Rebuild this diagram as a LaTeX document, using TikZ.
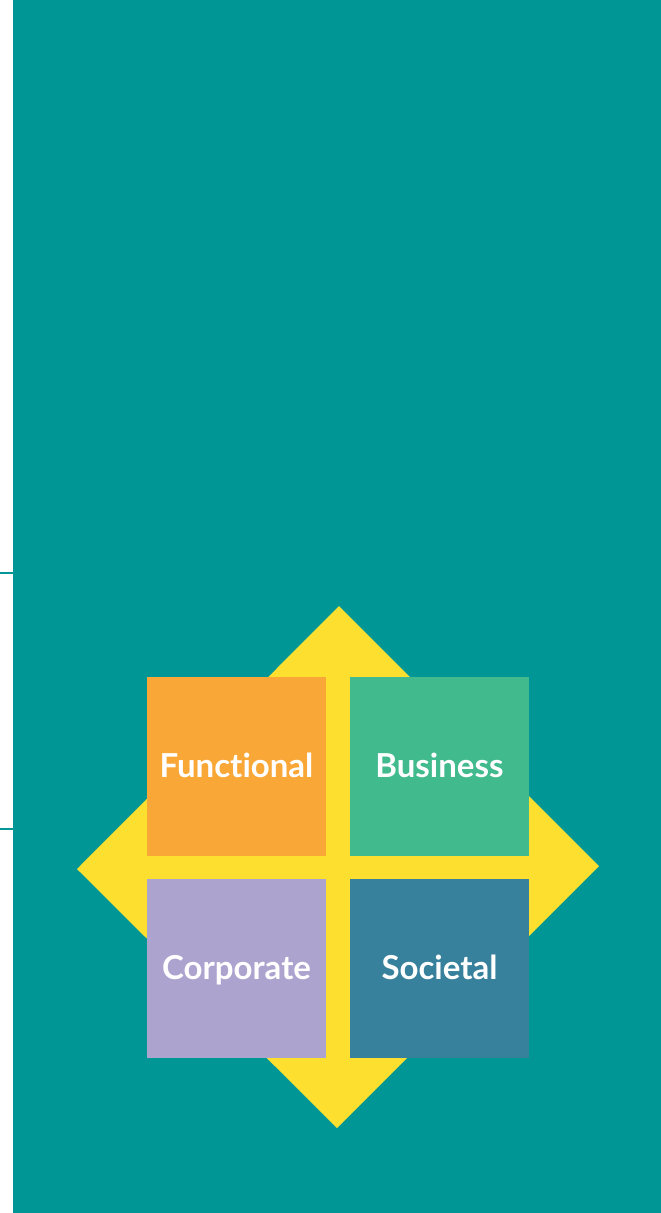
\documentclass[tikz,border=0pt]{standalone}
\usepackage{fontspec}
\setmainfont{Lato}[Ligatures=NoCommon]
\definecolor{bgteal}{HTML}{009696}
\definecolor{sunyellow}{HTML}{FCDF2F}
\definecolor{tileorange}{HTML}{F9A737}
\definecolor{tilegreen}{HTML}{41BA8D}
\definecolor{tilelilac}{HTML}{ACA3CF}
\definecolor{tileblue}{HTML}{37819C}
\begin{document}
\begin{tikzpicture}[x=1pt,y=-1pt,
  tile/.style={minimum width=179pt, minimum height=179pt, inner sep=0pt,
    text=white, font=\fontsize{33}{33}\selectfont\bfseries,
    text height=22pt, text depth=0pt}]
  % page and panel
  \useasboundingbox (0,0) rectangle (661,1213);
  \fill[white] (0,0) rectangle (661,1213);
  \fill[bgteal] (13,0) rectangle (661,1213);
  % short marks on the margin
  \coordinate (m1a) at (0,573);  \coordinate (m1b) at (13,573);
  \coordinate (m2a) at (0,829);  \coordinate (m2b) at (13,829);
  \draw[bgteal, line width=2pt] (m1a) -- (m1b);
  \draw[bgteal, line width=2pt] (m2a) -- (m2b);
  % yellow diamond behind the tiles
  \coordinate (dc) at (338,867);
  \fill[sunyellow] (339,606) -- (599,866) -- (337,1128) -- (77,869) -- cycle;
  % four tiles
  \node[tile, fill=tileorange] (functional) at (236.5,766.5) {Functional};
  \node[tile, fill=tilegreen]  (business)   at (439.5,766.5) {Business};
  \node[tile, fill=tilelilac]  (corporate)  at (236.5,968)   {Corporate};
  \node[tile, fill=tileblue]   (societal)   at (439.5,968)   {Societal};
\end{tikzpicture}
\end{document}
